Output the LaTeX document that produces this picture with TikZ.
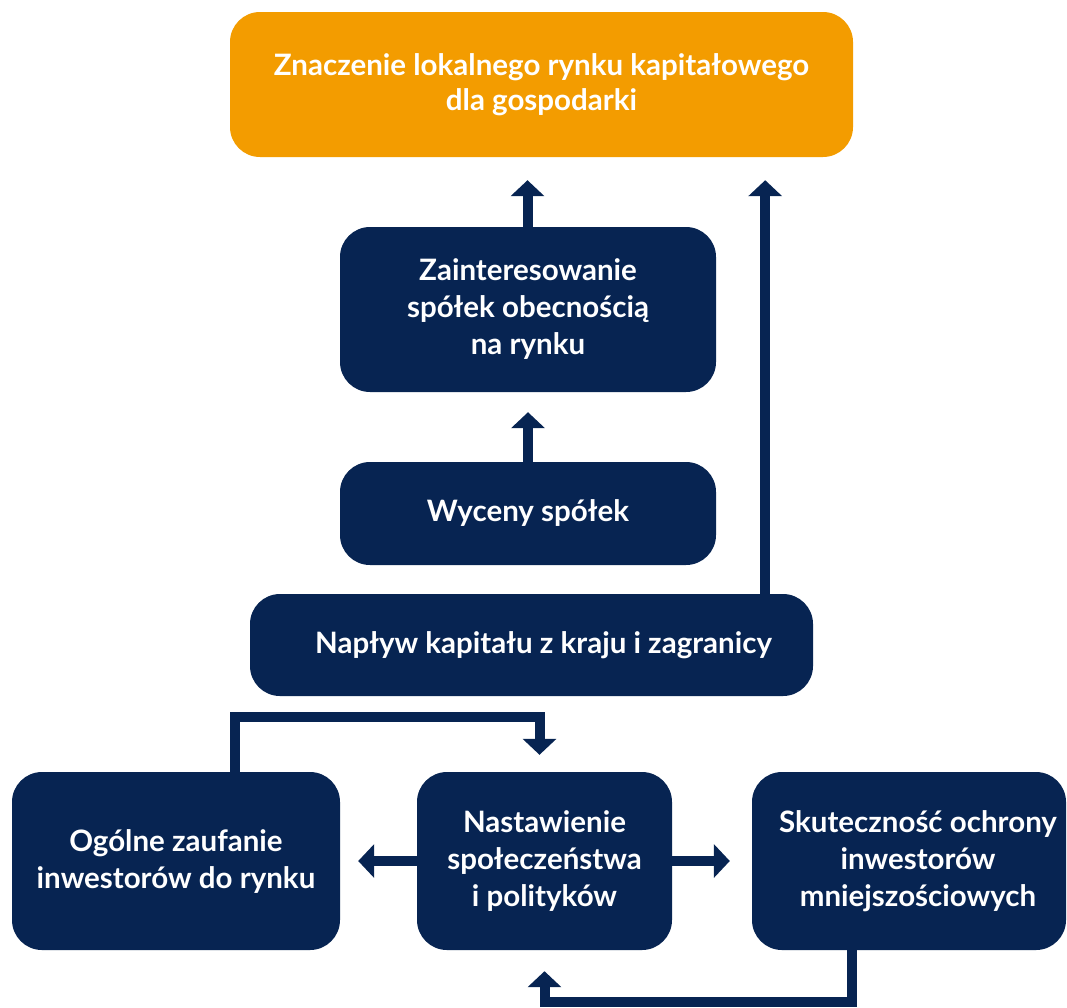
\documentclass[tikz,border=0pt]{standalone}
\usepackage{fontspec}
\setmainfont{Lato}
\usetikzlibrary{arrows.meta,positioning}
\definecolor{granat}{RGB}{7,36,82}
\definecolor{pomarancz}{RGB}{243,156,0}
\tikzset{blok/.style={rectangle,rounded corners=30pt,fill=granat,text=white,inner sep=0pt,align=center,
  font=\fontsize{29.5}{37}\selectfont\bfseries}}
\tikzset{gora/.style={blok,fill=pomarancz,font=\fontsize{29.5}{35}\selectfont\bfseries}}
\tikzset{strz/.style={draw=granat,line width=10pt,-{Triangle[width=33pt,length=16pt]}}}

\begin{document}
\begin{tikzpicture}[x=1pt,y=-1pt]
\useasboundingbox (0,0) rectangle (1067,1007);
\node (znacz) at (541.5,84.5) [gora,minimum width=623pt,minimum height=145pt] {Znaczenie lokalnego rynku kapitałowego\\dla gospodarki};
\node (zaint) at (528,309.5) [blok,minimum width=376pt,minimum height=165pt] {Zainteresowanie\\spółek obecnością\\na rynku};
\node (wyc) at (528,513.5) [blok,minimum width=376pt,minimum height=103pt] {Wyceny spółek};
\node (napl) at (531.5,645) [blok,minimum width=563pt,minimum height=102pt] {\hspace{24pt}Napływ kapitału z kraju i zagranicy};
\node (ogol) at (176,861) [blok,minimum width=328pt,minimum height=178pt] {Ogólne zaufanie\\inwestorów do rynku};
\node (nast) at (544.5,861) [blok,minimum width=255pt,minimum height=178pt] {Nastawienie\\społeczeństwa\\i polityków};
\node (skut) at (909,861) [blok,minimum width=314pt,minimum height=178pt] {\hspace{18pt}Skuteczność ochrony\\\hspace{18pt}inwestorów\\\hspace{18pt}mniejszościowych};
\draw[strz,shorten >=23pt] ([xshift=-14pt]znacz.south |- zaint.north) -- ([xshift=-14pt]znacz.south);
\draw[strz,shorten >=23pt] ([xshift=-48pt]napl.north east) -- ([xshift=-48pt]napl.north east |- znacz.south);
\draw[strz,shorten >=20pt] (wyc.north) -- (zaint.south);
\draw[strz,shorten >=17pt] ([xshift=59pt]ogol.north) -- ++(0,-55) -| ([xshift=-5pt]nast.north);
\draw[strz,shorten >=18pt] (nast.west) -- (ogol.east);
\draw[strz,shorten >=22pt] (nast.east) -- (skut.west);
\draw[strz,shorten >=21pt] ([xshift=-57pt]skut.south) -- ++(0,52) -| (nast.south);
\end{tikzpicture}
\end{document}
